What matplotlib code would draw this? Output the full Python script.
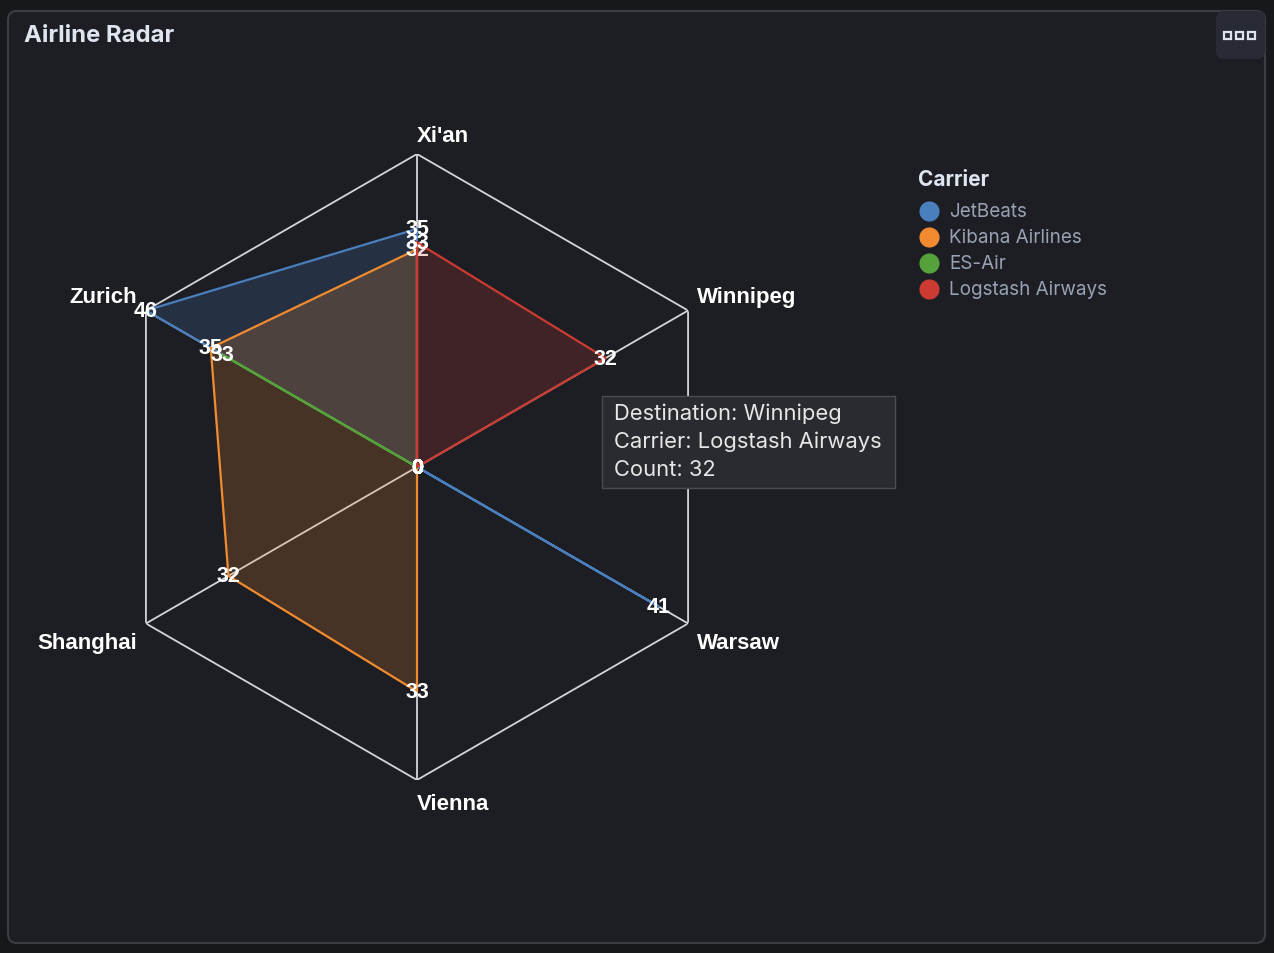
import matplotlib.pyplot as plt
import numpy as np
from matplotlib.patches import FancyBboxPatch, Rectangle
from matplotlib.lines import Line2D
from matplotlib.transforms import Affine2D

# data
destinations = ["Xi'an", "Winnipeg", "Warsaw", "Vienna", "Shanghai", "Zurich"]
carriers = ["JetBeats", "Kibana Airlines", "ES-Air", "Logstash Airways"]
jetbeats = [35, 0, 41, 0, 0, 46]
kibana_airlines = [32, 0, 0, 33, 32, 35]
es_air = [0, 0, 0, 0, 0, 33]
logstash_airways = [33, 32, 0, 0, 0, 0]
counts = [jetbeats, kibana_airlines, es_air, logstash_airways]
colors = ['#4a7fbe', '#f28b30', '#55a13a', '#cc3b31']

W, H = 1274, 954
fig = plt.figure(figsize=(W / 100, H / 100), dpi=100, facecolor='#17181c')
px = Affine2D().scale(1 / W, 1 / H) + fig.transFigure  # pixel coords, y up

# panel + menu button (behind the axes)
fig.patches.append(FancyBboxPatch((8, 10), 1257, 932, boxstyle='round,pad=0,rounding_size=9',
                                  transform=px, facecolor='#1d1e24', edgecolor='#3b3d45', lw=1.5,
                                  zorder=-2))
fig.patches.append(FancyBboxPatch((1216, 894), 49, 48, boxstyle='round,pad=0,rounding_size=8',
                                  transform=px, facecolor='#282b33', edgecolor='none', zorder=-1))
for x in (1227, 1239, 1251):
    fig.patches.append(Rectangle((x - 3.5, 914.5), 7, 7, transform=px, facecolor='none',
                                 edgecolor='#dfe5ef', lw=1.6, zorder=-1))

fig.text(24 / W, 1 - 36 / H, 'Airline Radar', family='Inter', fontweight='bold', fontsize=17.2,
         color='#dfe5ef', va='center', ha='left')

# radar
cx, cy, R = 417, 468, 313
ax = fig.add_axes([(cx - R) / W, (H - cy - R) / H, 2 * R / W, 2 * R / H], projection='polar')
ax.set_theta_offset(np.pi / 2)
ax.set_theta_direction(-1)
rmax = max(max(c) for c in counts)
ax.set_ylim(0, rmax)
ax.grid(False)
ax.set_xticks([])
ax.set_yticks([])
ax.spines['polar'].set_visible(False)
ax.patch.set_alpha(0)

theta = np.arange(len(destinations)) * 2 * np.pi / len(destinations)
closed = np.append(theta, theta[0])

grid_col = '#d3d5da'
for t in theta:
    ax.plot([t, t], [0, rmax], color=grid_col, lw=1.3, zorder=1)
ax.plot(closed, [rmax] * len(closed), color=grid_col, lw=1.3, zorder=1)

label_font = dict(family='Liberation Sans', fontweight='bold', color='white')
for i, t in enumerate(theta):
    s, c = np.sin(t), np.cos(t)
    dx = 9 * np.sign(round(s, 6))
    dy = 21 * c if abs(c) > 0.99 else 16.5 * np.sign(c)
    ax.annotate(destinations[i], (t, rmax), xytext=(dx, dy), textcoords='offset pixels',
                ha='right' if s < -1e-6 else 'left', va='center_baseline', fontsize=16,
                **label_font)

z = 2
for vals, col in zip(counts, colors):
    v = np.append(vals, vals[0])
    ax.fill(closed, v, color=col, alpha=0.2, lw=0, zorder=z)
    ax.plot(closed, v, color=col, lw=1.6, zorder=z + 0.1)
    for t, val in zip(theta, vals):
        ax.text(t, val, str(val), ha='center', va='center', fontsize=15.5, zorder=z + 0.2,
                **label_font)
    z += 1

# legend
fig.text(918 / W, 1 - 180 / H, 'Carrier', family='Inter', fontweight='bold', fontsize=15,
         color='#dfe5ef', va='center', ha='left')
for k, (name, col) in enumerate(zip(carriers, colors)):
    yk = 212 + 26 * k
    fig.add_artist(Line2D([929], [H - yk], transform=px, marker='o', ls='none', markersize=14.5,
                          markerfacecolor=col, markeredgecolor='none'))
    fig.text(949 / W, 1 - yk / H, name, family='Inter', fontsize=13.6, color='#98a2b3',
             va='center', ha='left')

# hover tooltip
tip = 1
fig.patches.append(Rectangle((602, 954 - 489), 293, 92, transform=px, facecolor='#2a2b30',
                             edgecolor='#4a4c54', lw=1, zorder=3))
tip_lines = [f'Destination: {destinations[tip]}', f'Carrier: {carriers[3]}',
             f'Count: {logstash_airways[tip]}']
for k, line in enumerate(tip_lines):
    fig.text(614 / W, 1 - (414 + 28 * k) / H, line, family='Inter', fontsize=15.8,
             color='#e6e6e6', va='center', ha='left', zorder=4)

fig.savefig('out.png', dpi=100, facecolor=fig.get_facecolor())
